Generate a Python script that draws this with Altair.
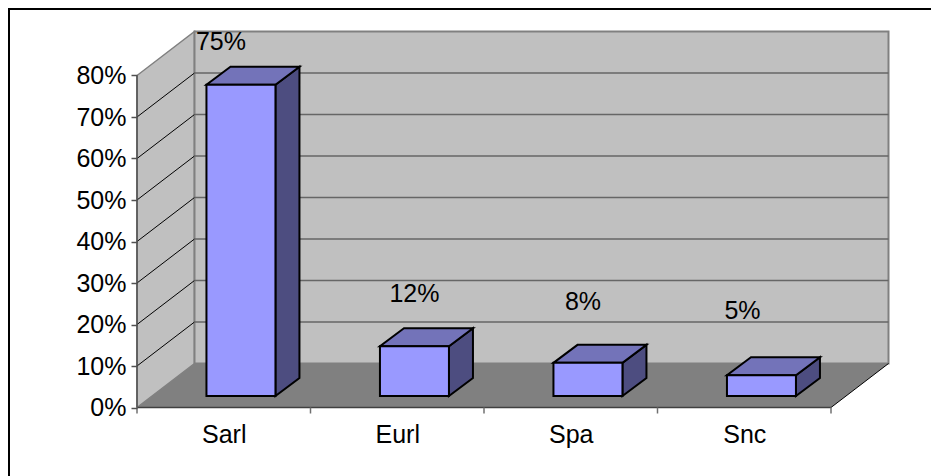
import altair as alt
import pandas as pd

categories = ["Sarl", "Eurl", "Spa", "Snc"]
values = [75, 12, 8, 5]
y_ticks = [0, 10, 20, 30, 40, 50, 60, 70, 80]

# scale mapping
W, H = 923, 468
X0, CAT_W = 129.0, 173.5      # front-left corner and category width in px (svg coords)
Y0, V_H = 399.5, 4.15         # zero line and px per percent
DEPTH_U, DEPTH_V = 57.5 / CAT_W, 44 / V_H
sx = alt.Scale(domain=[-X0 / CAT_W, (W - X0) / CAT_W], range=[0, W], nice=False, zero=False)
sy = alt.Scale(domain=[(Y0 - H) / V_H, Y0 / V_H], range=[H, 0], nice=False, zero=False)

BAR_FRONT = 0.26
BAR_L = 54.5 / CAT_W + BAR_FRONT * DEPTH_U
BAR_W = 69 / CAT_W
BAR_DU, BAR_DV = 24 / CAT_W, 18 / V_H

FONT = "Liberation Sans"
FS = 25
n = len(categories)
top = y_ticks[-1]

axis_y = alt.Axis(values=y_ticks, labelExpr="datum.value + '%'", offset=-X0, domain=False, grid=False,
                  ticks=True, tickSize=6, tickColor="#505050", tickWidth=1.5, labelFont=FONT, labelFontSize=FS,
                  labelColor="black", labelPadding=5, title=None, zindex=1)
labels_expr = "[" + ",".join(f"'{c}'" for c in categories) + "][floor(datum.value)]"
axis_x = alt.Axis(values=[i + 0.5 for i in range(n)], labelExpr=labels_expr, offset=-(H - Y0), domain=False,
                  grid=False, ticks=False, labelFont=FONT, labelFontSize=FS, labelColor="black", labelPadding=15,
                  title=None, zindex=1)

X = alt.X("x:Q", scale=sx, axis=axis_x)
Y = alt.Y("y:Q", scale=sy, axis=axis_y)


def area_v(rows, **style):
    return alt.Chart(pd.DataFrame(rows, columns=["x", "y", "y2"])).mark_area(**style).encode(
        x=X, y=Y, y2="y2:Q")


def area_h(rows, **style):
    return alt.Chart(pd.DataFrame(rows, columns=["y", "x", "x2"])).mark_area(orient="horizontal", **style).encode(
        y=Y, x=X, x2="x2:Q")


def rect(x, x2, y, y2, **style):
    d = pd.DataFrame({"x": [x], "x2": [x2], "y": [y], "y2": [y2]})
    return alt.Chart(d).mark_rect(**style).encode(x=X, x2="x2:Q", y=Y, y2="y2:Q")


def segs(rows, **style):
    d = pd.DataFrame(rows, columns=["x", "x2", "y", "y2"])
    return alt.Chart(d).mark_rule(**style).encode(x=X, x2="x2:Q", y=Y, y2="y2:Q")


layers = []

# walls and floor
layers.append(area_v([(0, 0, top), (DEPTH_U, DEPTH_V, top + DEPTH_V)], fill="#c0c0c0", stroke="#808080", strokeWidth=1.5))
layers.append(rect(DEPTH_U, n + DEPTH_U, DEPTH_V, top + DEPTH_V, fill="#c0c0c0", stroke="#808080", strokeWidth=2))
layers.append(area_h([(0, 0, n), (DEPTH_V, DEPTH_U, n + DEPTH_U)], fill="#808080"))

# gridlines
inner = [t for t in y_ticks if 0 < t < top]
layers.append(segs([(0, DEPTH_U, t, t + DEPTH_V) for t in inner], color="black", strokeWidth=1))
layers.append(segs([(DEPTH_U, n + DEPTH_U, t + DEPTH_V, t + DEPTH_V) for t in inner], color="#666666", strokeWidth=1.5))

# floor edges, axis lines
layers.append(segs([(n, n + DEPTH_U, 0, DEPTH_V)], color="black", strokeWidth=1))
layers.append(segs([(0, n, 0, 0)], color="#404040", strokeWidth=1.5))
layers.append(segs([(0, 0, 0, top)], color="#505050", strokeWidth=1.5))
TICK_V = 6 / V_H
layers.append(segs([(i, i, 0, -TICK_V) for i in range(n + 1)], color="#707070", strokeWidth=1.5))

# bars
label_shift = [(-20, -43), (0, -52), (-5, -61), (-19, -64)]
for i, (cat, v) in enumerate(zip(categories, values)):
    fx, fx2 = i + BAR_L, i + BAR_L + BAR_W
    fy, fy2 = BAR_FRONT * DEPTH_V, BAR_FRONT * DEPTH_V + v
    st = dict(stroke="black", strokeWidth=2, strokeJoin="miter")
    layers.append(area_v([(fx2, fy, fy2), (fx2 + BAR_DU, fy + BAR_DV, fy2 + BAR_DV)], fill="#4d4d80", **st))
    layers.append(area_h([(fy2, fx, fx2), (fy2 + BAR_DV, fx + BAR_DU, fx2 + BAR_DU)], fill="#7373b9", **st))
    layers.append(rect(fx, fx2, fy, fy2, fill="#9999ff", **st))
    sdx, sdy = label_shift[i]
    lab = pd.DataFrame({"x": [(fx + fx2) / 2], "y": [fy2], "t": [f"{v}%"]})
    layers.append(alt.Chart(lab).mark_text(font=FONT, fontSize=FS, color="black", dx=sdx, dy=sdy).encode(
        x=X, y=Y, text="t:N"))

# outer frame
frame = pd.DataFrame({"a": [0]})
layers.append(alt.Chart(frame).mark_rule(color="black", strokeWidth=2).encode(
    x=alt.value(1), y=alt.value(0), y2=alt.value(H)))
layers.append(alt.Chart(frame).mark_rule(color="black", strokeWidth=2).encode(
    x=alt.value(0), x2=alt.value(W), y=alt.value(1)))

chart = alt.layer(*layers).properties(
    width=W, height=H, padding=0,
    autosize=alt.AutoSizeParams(type="none"),
    background="white",
).configure_view(stroke=None)

chart.save("out.html", embed_options={"renderer": "svg", "actions": False})
